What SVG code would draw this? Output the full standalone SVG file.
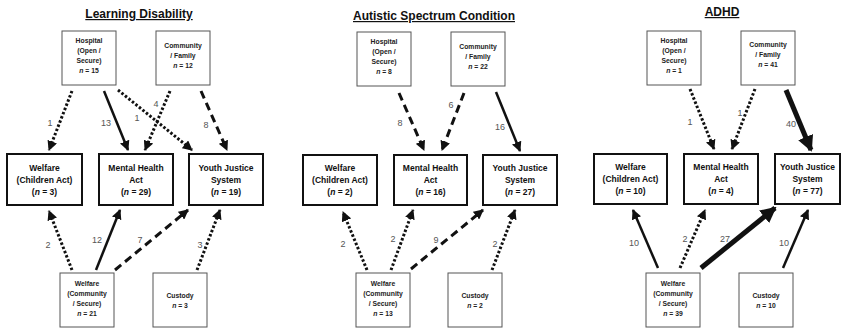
<svg xmlns="http://www.w3.org/2000/svg" width="843" height="330" viewBox="0 0 843 330">
<style>
text{font-family:"Liberation Sans",Arial,sans-serif;fill:#111}
.title{font-size:12px;font-weight:bold;text-anchor:middle;text-decoration:underline}
.sm{font-size:6.8px;font-weight:bold;text-anchor:middle;fill:#222}
.md{font-size:8.5px;font-weight:bold;text-anchor:middle}
.lbl{font-size:9px;text-anchor:middle;fill:#555}
.thin{fill:#fff;stroke:#555;stroke-width:1}
.bold{fill:#fff;stroke:#111;stroke-width:2}
.c{fill:none;stroke:#111}
.dot{stroke-width:3;stroke-dasharray:2.5 2}
.dash{stroke-width:3;stroke-dasharray:8 5}
.sol{stroke-width:2.5}
.thk{stroke-width:5}
</style>
<defs>
<marker id="ah" markerUnits="userSpaceOnUse" markerWidth="10" markerHeight="10" refX="9" refY="5" orient="auto"><path d="M0,0 L10,5 L0,10 z" fill="#111"/></marker>
<marker id="ahL" markerUnits="userSpaceOnUse" markerWidth="16" markerHeight="16" refX="14" refY="8" orient="auto"><path d="M0,0 L16,8 L0,16 z" fill="#111"/></marker>
</defs>

<text class="title" x="139" y="18">Learning Disability</text>
<text class="title" x="434" y="20">Autistic Spectrum Condition</text>
<text class="title" x="722" y="16">ADHD</text>

<g id="connectors">
<!-- LD -->
<line class="c dot" x1="72" y1="91" x2="49" y2="150" marker-end="url(#ah)"/>
<line class="c sol" x1="104" y1="91" x2="128" y2="150" marker-end="url(#ah)"/>
<line class="c dot" x1="118" y1="90" x2="192" y2="150" marker-end="url(#ah)"/>
<line class="c dot" x1="170" y1="91" x2="145" y2="150" marker-end="url(#ah)"/>
<line class="c dash" x1="201" y1="91" x2="227" y2="150" marker-end="url(#ah)"/>
<line class="c dot" x1="72" y1="270" x2="49" y2="211" marker-end="url(#ah)"/>
<line class="c sol" x1="96" y1="270" x2="120" y2="210" marker-end="url(#ah)"/>
<line class="c dash" x1="115" y1="270" x2="188" y2="210" marker-end="url(#ah)"/>
<line class="c dot" x1="197" y1="270" x2="220" y2="210" marker-end="url(#ah)"/>
<text class="lbl" x="50" y="126">1</text>
<text class="lbl" x="106" y="126">13</text>
<text class="lbl" x="137" y="121">1</text>
<text class="lbl" x="156" y="107">4</text>
<text class="lbl" x="206" y="128">8</text>
<text class="lbl" x="48" y="248">2</text>
<text class="lbl" x="97" y="243">12</text>
<text class="lbl" x="140" y="243">7</text>
<text class="lbl" x="200" y="248">3</text>
<!-- ASC -->
<line class="c dash" x1="399" y1="93" x2="424" y2="150" marker-end="url(#ah)"/>
<line class="c dash" x1="464" y1="93" x2="442" y2="150" marker-end="url(#ah)"/>
<line class="c sol" x1="496" y1="92" x2="520" y2="151" marker-end="url(#ah)"/>
<line class="c dot" x1="367" y1="270" x2="343" y2="212" marker-end="url(#ah)"/>
<line class="c dot" x1="391" y1="270" x2="413" y2="210" marker-end="url(#ah)"/>
<line class="c dash" x1="411" y1="269" x2="483" y2="210" marker-end="url(#ah)"/>
<line class="c dot" x1="492" y1="270" x2="515" y2="210" marker-end="url(#ah)"/>
<text class="lbl" x="400" y="126">8</text>
<text class="lbl" x="451" y="108">6</text>
<text class="lbl" x="500" y="130">16</text>
<text class="lbl" x="343" y="247">2</text>
<text class="lbl" x="393" y="242">2</text>
<text class="lbl" x="436" y="243">9</text>
<text class="lbl" x="495" y="247">2</text>
<!-- ADHD -->
<line class="c dot" x1="690" y1="89" x2="714" y2="149" marker-end="url(#ah)"/>
<line class="c dot" x1="755" y1="89" x2="732" y2="149" marker-end="url(#ah)"/>
<line class="c thk" x1="786" y1="90" x2="811" y2="150" marker-end="url(#ahL)"/>
<line class="c sol" x1="658" y1="268" x2="633" y2="210" marker-end="url(#ah)"/>
<line class="c dot" x1="680" y1="268" x2="705" y2="210" marker-end="url(#ah)"/>
<line class="c thk" x1="701" y1="268" x2="775" y2="208" marker-end="url(#ahL)"/>
<line class="c sol" x1="783" y1="268" x2="808" y2="210" marker-end="url(#ah)"/>
<text class="lbl" x="690" y="125">1</text>
<text class="lbl" x="740" y="116">1</text>
<text class="lbl" x="791" y="127">40</text>
<text class="lbl" x="634" y="246">10</text>
<text class="lbl" x="685" y="242">2</text>
<text class="lbl" x="725" y="242">27</text>
<text class="lbl" x="784" y="246">10</text>
</g>

<!-- LD nodes -->
<g id="ld-hospital"><rect class="thin" x="62" y="31" width="54" height="54"/>
<text class="sm" x="89" y="42.5">Hospital</text><text class="sm" x="89" y="52.5">(Open /</text><text class="sm" x="89" y="62.5">Secure)</text><text class="sm" x="89" y="72.5"><tspan font-style="italic">n</tspan> = 15</text></g>
<g id="ld-community"><rect class="thin" x="156" y="31" width="54" height="54"/>
<text class="sm" x="183" y="47.5">Community</text><text class="sm" x="183" y="57.5">/ Family</text><text class="sm" x="183" y="67.5"><tspan font-style="italic">n</tspan> = 12</text></g>
<g id="ld-welfare"><rect class="bold" x="7" y="154" width="75" height="51"/>
<text class="md" x="44.5" y="170.5">Welfare</text><text class="md" x="44.5" y="182.5">(Children Act)</text><text class="md" x="44.5" y="194.5">(<tspan font-style="italic">n</tspan> = 3)</text></g>
<g id="ld-mha"><rect class="bold" x="99" y="154" width="74" height="51"/>
<text class="md" x="136" y="170.5">Mental Health</text><text class="md" x="136" y="182.5">Act</text><text class="md" x="136" y="194.5">(<tspan font-style="italic">n</tspan> = 29)</text></g>
<g id="ld-yjs"><rect class="bold" x="189" y="154" width="74" height="51"/>
<text class="md" x="226" y="170.5">Youth Justice</text><text class="md" x="226" y="182.5">System</text><text class="md" x="226" y="194.5">(<tspan font-style="italic">n</tspan> = 19)</text></g>
<g id="ld-welfare-comm"><rect class="thin" x="60" y="273" width="54" height="54"/>
<text class="sm" x="87" y="285.5">Welfare</text><text class="sm" x="87" y="295.5">(Community</text><text class="sm" x="87" y="305.5">/ Secure)</text><text class="sm" x="87" y="315.5"><tspan font-style="italic">n</tspan> = 21</text></g>
<g id="ld-custody"><rect class="thin" x="153" y="273" width="54" height="54"/>
<text class="sm" x="180" y="297.5">Custody</text><text class="sm" x="180" y="307.5"><tspan font-style="italic">n</tspan> = 3</text></g>

<!-- ASC nodes -->
<g id="asc-hospital"><rect class="thin" x="357" y="32" width="54" height="54"/>
<text class="sm" x="384" y="43.5">Hospital</text><text class="sm" x="384" y="53.5">(Open /</text><text class="sm" x="384" y="63.5">Secure)</text><text class="sm" x="384" y="73.5"><tspan font-style="italic">n</tspan> = 8</text></g>
<g id="asc-community"><rect class="thin" x="451" y="32" width="54" height="54"/>
<text class="sm" x="478" y="48.5">Community</text><text class="sm" x="478" y="58.5">/ Family</text><text class="sm" x="478" y="68.5"><tspan font-style="italic">n</tspan> = 22</text></g>
<g id="asc-welfare"><rect class="bold" x="303" y="155" width="74" height="50"/>
<text class="md" x="340" y="170.5">Welfare</text><text class="md" x="340" y="182.5">(Children Act)</text><text class="md" x="340" y="194.5">(<tspan font-style="italic">n</tspan> = 2)</text></g>
<g id="asc-mha"><rect class="bold" x="394" y="155" width="73" height="50"/>
<text class="md" x="430.5" y="170.5">Mental Health</text><text class="md" x="430.5" y="182.5">Act</text><text class="md" x="430.5" y="194.5">(<tspan font-style="italic">n</tspan> = 16)</text></g>
<g id="asc-yjs"><rect class="bold" x="483" y="155" width="74" height="50"/>
<text class="md" x="520" y="170.5">Youth Justice</text><text class="md" x="520" y="182.5">System</text><text class="md" x="520" y="194.5">(<tspan font-style="italic">n</tspan> = 27)</text></g>
<g id="asc-welfare-comm"><rect class="thin" x="356" y="273" width="54" height="54"/>
<text class="sm" x="383" y="285.5">Welfare</text><text class="sm" x="383" y="295.5">(Community</text><text class="sm" x="383" y="305.5">/ Secure)</text><text class="sm" x="383" y="315.5"><tspan font-style="italic">n</tspan> = 13</text></g>
<g id="asc-custody"><rect class="thin" x="448" y="273" width="54" height="54"/>
<text class="sm" x="475" y="297.5">Custody</text><text class="sm" x="475" y="307.5"><tspan font-style="italic">n</tspan> = 2</text></g>

<!-- ADHD nodes -->
<g id="adhd-hospital"><rect class="thin" x="647" y="31" width="54" height="54"/>
<text class="sm" x="674" y="42.5">Hospital</text><text class="sm" x="674" y="52.5">(Open /</text><text class="sm" x="674" y="62.5">Secure)</text><text class="sm" x="674" y="72.5"><tspan font-style="italic">n</tspan> = 1</text></g>
<g id="adhd-community"><rect class="thin" x="741" y="31" width="54" height="54"/>
<text class="sm" x="768" y="46.5">Community</text><text class="sm" x="768" y="56.5">/ Family</text><text class="sm" x="768" y="66.5"><tspan font-style="italic">n</tspan> = 41</text></g>
<g id="adhd-welfare"><rect class="bold" x="594" y="154" width="73" height="50"/>
<text class="md" x="630.5" y="169.5">Welfare</text><text class="md" x="630.5" y="181.5">(Children Act)</text><text class="md" x="630.5" y="193.5">(<tspan font-style="italic">n</tspan> = 10)</text></g>
<g id="adhd-mha"><rect class="bold" x="684" y="154" width="74" height="50"/>
<text class="md" x="721" y="169.5">Mental Health</text><text class="md" x="721" y="181.5">Act</text><text class="md" x="721" y="193.5">(<tspan font-style="italic">n</tspan> = 4)</text></g>
<g id="adhd-yjs"><rect class="bold" x="775" y="154" width="65" height="50"/>
<text class="md" x="807.5" y="169.5">Youth Justice</text><text class="md" x="807.5" y="181.5">System</text><text class="md" x="807.5" y="193.5">(<tspan font-style="italic">n</tspan> = 77)</text></g>
<g id="adhd-welfare-comm"><rect class="thin" x="646" y="273" width="54" height="54"/>
<text class="sm" x="673" y="285.5">Welfare</text><text class="sm" x="673" y="295.5">(Community</text><text class="sm" x="673" y="305.5">/ Secure)</text><text class="sm" x="673" y="315.5"><tspan font-style="italic">n</tspan> = 39</text></g>
<g id="adhd-custody"><rect class="thin" x="739" y="273" width="54" height="54"/>
<text class="sm" x="766" y="297.5">Custody</text><text class="sm" x="766" y="307.5"><tspan font-style="italic">n</tspan> = 10</text></g>
</svg>
